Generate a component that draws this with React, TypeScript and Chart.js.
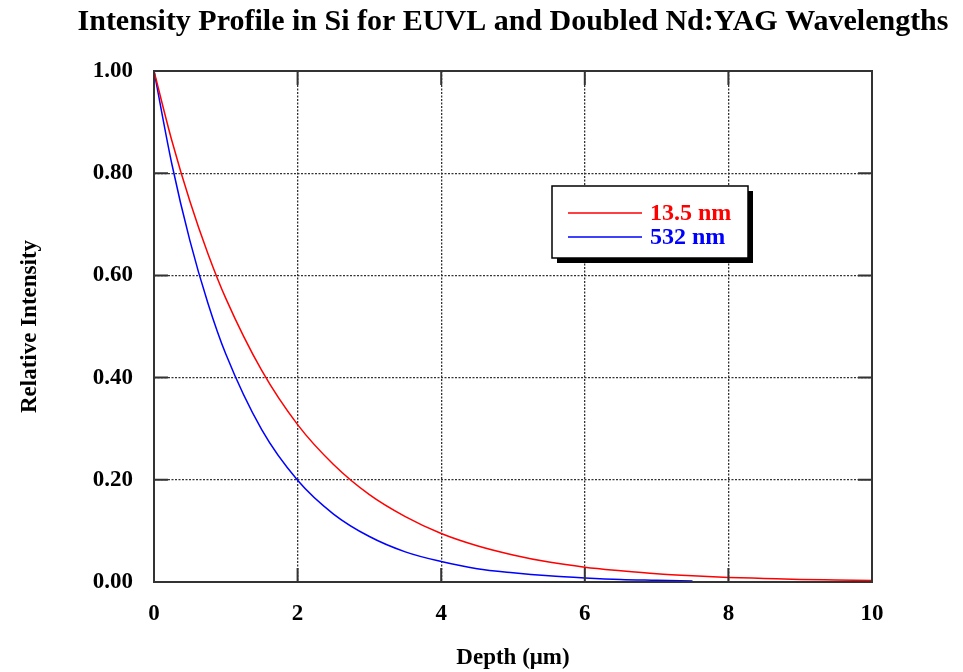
import React, { useEffect, useRef } from "react";
import { Chart, registerables } from "chart.js";

Chart.register(...registerables);

const TITLE = "Intensity Profile in Si for EUVL and Doubled Nd:YAG Wavelengths";
const X_TITLE = "Depth (μm)";
const Y_TITLE = "Relative Intensity";

const depthEUV = [0, 0.25, 0.5, 0.75, 1, 1.5, 2, 2.5, 3, 3.5, 4, 4.5, 5, 5.5, 6, 6.5, 7, 7.5, 8, 8.5, 9, 9.5, 10];
const intensityEUV = [1.0, 0.863, 0.745, 0.643, 0.555, 0.414, 0.308, 0.23, 0.171, 0.128, 0.095, 0.071, 0.053, 0.039, 0.029, 0.022, 0.016, 0.012, 0.009, 0.007, 0.005, 0.004, 0.003];

const depthYAG = [0, 0.25, 0.5, 0.75, 1, 1.5, 2, 2.5, 3, 3.5, 4, 4.5, 5, 5.5, 6, 6.5, 7, 7.5];
const intensityYAG = [1.0, 0.817, 0.668, 0.546, 0.446, 0.298, 0.199, 0.133, 0.089, 0.059, 0.04, 0.026, 0.018, 0.012, 0.008, 0.005, 0.0035, 0.002];

const seriesLabels = ["13.5 nm", "532 nm"];
const seriesColors = ["#ff0000", "#0000ff"];

const xTicks = [0, 2, 4, 6, 8, 10];
const yTicks = [0, 0.2, 0.4, 0.6, 0.8, 1.0];

const FONT = "'Liberation Serif', 'Times New Roman', serif";

const framePlugin = {
  id: "frame",
  afterDatasetsDraw(chart: any) {
    const { ctx, chartArea: a, scales } = chart;
    ctx.save();
    ctx.strokeStyle = "#333";
    ctx.lineWidth = 2;
    const tl = 14;
    ctx.beginPath();
    xTicks.forEach((v) => {
      const px = scales.x.getPixelForValue(v);
      ctx.moveTo(px, a.bottom);
      ctx.lineTo(px, a.bottom - tl);
      ctx.moveTo(px, a.top);
      ctx.lineTo(px, a.top + tl);
    });
    yTicks.forEach((v) => {
      const py = scales.y.getPixelForValue(v);
      ctx.moveTo(a.left, py);
      ctx.lineTo(a.left + tl, py);
      ctx.moveTo(a.right, py);
      ctx.lineTo(a.right - tl, py);
    });
    ctx.stroke();
    ctx.strokeRect(a.left, a.top, a.right - a.left, a.bottom - a.top);
    ctx.restore();
  },
  afterDraw(chart: any) {
    const { ctx, chartArea: a } = chart;
    ctx.save();
    // title centred over the plot area
    ctx.fillStyle = "#000";
    ctx.font = "bold 30px " + FONT;
    ctx.textAlign = "center";
    ctx.textBaseline = "middle";
    ctx.fillText(TITLE, (a.left + a.right) / 2, 22);

    // legend box with drop shadow
    const bx = a.left + 398;
    const by = a.top + 115;
    const bw = 196;
    const bh = 72;
    ctx.fillStyle = "#000";
    ctx.fillRect(bx + 5, by + 5, bw, bh);
    ctx.fillStyle = "#fff";
    ctx.fillRect(bx, by, bw, bh);
    ctx.strokeStyle = "#000";
    ctx.lineWidth = 1.5;
    ctx.strokeRect(bx, by, bw, bh);
    ctx.font = "bold 24px " + FONT;
    ctx.textBaseline = "middle";
    ctx.textAlign = "left";
    chart.data.datasets.forEach((ds: any, i: number) => {
      const y = by + 27 + i * 24;
      ctx.strokeStyle = ds.borderColor;
      ctx.lineWidth = 1.5;
      ctx.beginPath();
      ctx.moveTo(bx + 16, y);
      ctx.lineTo(bx + 90, y);
      ctx.stroke();
      ctx.fillStyle = ds.borderColor;
      ctx.fillText(ds.label, bx + 98, y + 1);
    });
    ctx.restore();
  },
};

export default function App() {
  const ref = useRef<HTMLCanvasElement>(null);
  useEffect(() => {
    if (!ref.current) return;
    const toPts = (xs: number[], ys: number[]) => xs.map((x, i) => ({ x, y: ys[i] }));
    const gridDash = [2, 1.5];
    const chart = new Chart(ref.current, {
      type: "line",
      data: {
        datasets: [
          {
            label: seriesLabels[0],
            data: toPts(depthEUV, intensityEUV),
            borderColor: seriesColors[0],
            borderWidth: 1.5,
            pointRadius: 0,
            cubicInterpolationMode: "monotone",
            fill: false,
          },
          {
            label: seriesLabels[1],
            data: toPts(depthYAG, intensityYAG),
            borderColor: seriesColors[1],
            borderWidth: 1.5,
            pointRadius: 0,
            cubicInterpolationMode: "monotone",
            fill: false,
          },
        ],
      },
      options: {
        animation: false,
        responsive: false,
        devicePixelRatio: 1,
        layout: { padding: { left: 0, right: 91, top: 71, bottom: 0 } },
        plugins: {
          legend: { display: false },
          tooltip: { enabled: false },
          title: { display: false },
        },
        scales: {
          x: {
            type: "linear",
            min: 0,
            max: 10,
            afterBuildTicks: (s: any) => {
              s.ticks = xTicks.map((v) => ({ value: v }));
            },
            afterFit: (s: any) => {
              s.height = 90;
            },
            grid: {
              color: "#333",
              lineWidth: 1.3,
              drawTicks: false,
            },
            border: { display: false, dash: gridDash },
            ticks: {
              color: "#000",
              padding: 18,
              font: { family: FONT, size: 23, weight: "bold" },
              maxRotation: 0,
              callback: (v: any) => String(v),
            },
            title: {
              display: true,
              text: X_TITLE,
              color: "#000",
              font: { family: FONT, size: 23, weight: "bold" },
              padding: { top: 0, bottom: 0 },
            },
          },
          y: {
            type: "linear",
            min: 0,
            max: 1,
            afterBuildTicks: (s: any) => {
              s.ticks = yTicks.map((v) => ({ value: v }));
            },
            afterFit: (s: any) => {
              s.width = 154;
            },
            grid: {
              color: "#333",
              lineWidth: 1.3,
              drawTicks: false,
            },
            border: { display: false, dash: gridDash },
            ticks: {
              color: "#000",
              padding: 21,
              font: { family: FONT, size: 23, weight: "bold" },
              callback: (v: any) => Number(v).toFixed(2),
            },
            title: {
              display: true,
              text: Y_TITLE,
              color: "#000",
              font: { family: FONT, size: 23, weight: "bold" },
              padding: { top: 16, bottom: 0 },
            },
          },
        },
      } as any,
      plugins: [framePlugin],
    });
    return () => chart.destroy();
  }, []);
  return (
    <div style={{ position: "fixed", left: 0, top: 0, width: 963, height: 672, background: "#fff" }}>
      <canvas ref={ref} width={963} height={672} style={{ width: 963, height: 672 }} />
    </div>
  );
}
